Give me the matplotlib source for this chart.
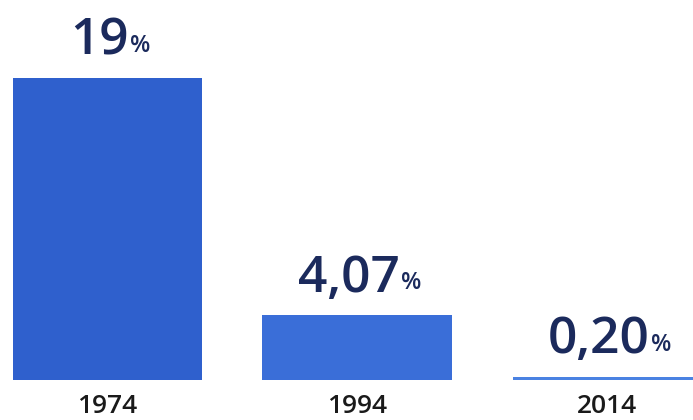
import matplotlib

matplotlib.use("Agg")
import matplotlib.pyplot as plt

years = ["1974", "1994", "2014"]
shares = [19.0, 4.07, 0.20]
share_labels = ["19", "4,07", "0,20"]

BAR_COLORS = ["#2f60cd", "#3a6ed8", "#4a82e2"]
LABEL_COLOR = "#1b2a5c"

plt.rcParams["font.family"] = ["Open Sans", "DejaVu Sans"]

fig = plt.figure(figsize=(6.93, 4.2), dpi=100)
ax = fig.add_axes([0, 40 / 420, 1, 380 / 420])

positions = list(range(len(years)))
ax.bar(positions, shares, width=0.76, color=BAR_COLORS)

for x, value, label in zip(positions, shares, share_labels):
    num = ax.annotate(
        label,
        (x, value),
        xytext=(-6, 17),
        textcoords="offset points",
        ha="center",
        va="baseline",
        fontsize=37,
        fontweight="semibold",
        color=LABEL_COLOR,
    )
    ax.annotate(
        "%",
        xy=(1, 0),
        xycoords=num,
        xytext=(1, 6),
        textcoords="offset points",
        ha="left",
        va="bottom",
        fontsize=17,
        fontweight="semibold",
        color=LABEL_COLOR,
    )

ax.set_xlim(-0.43, 2.342)
ax.set_ylim(0, 19 * 380 / 302)
ax.set_xticks(positions)
ax.set_xticklabels(years, fontsize=19, fontweight="semibold", color="#1a1a1a")
ax.tick_params(axis="x", length=0, pad=10)
ax.set_yticks([])
for spine in ax.spines.values():
    spine.set_visible(False)

fig.savefig("out.png", dpi=100)
